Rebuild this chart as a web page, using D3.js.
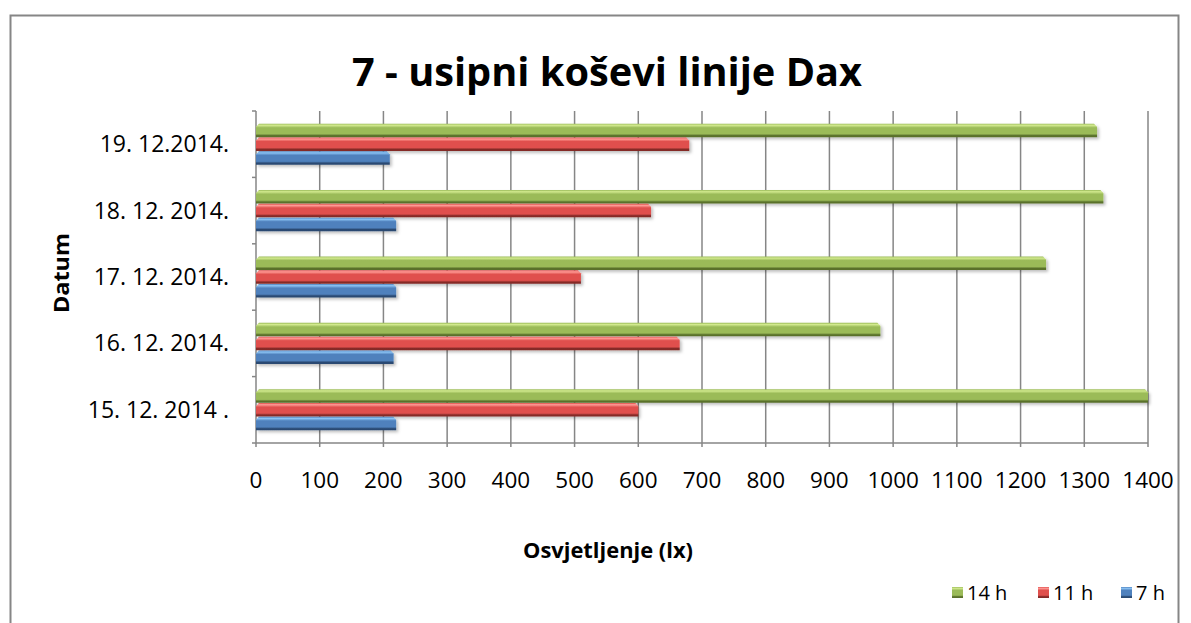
<!DOCTYPE html>
<html>
<head>
<meta charset="utf-8">
<script src="https://cdn.jsdelivr.net/npm/d3@7"></script>
<style>
  body { margin: 0; background: #fff; }
  text { font-family: "Open Sans", "DejaVu Sans", sans-serif; }
</style>
</head>
<body>
<div id="chart"></div>
<script>
"use strict";

// categories, top to bottom
const dates = ["19. 12.2014.", "18. 12. 2014.", "17. 12. 2014.", "16. 12. 2014.", "15. 12. 2014 ."];

const series = ["14 h", "11 h", "7 h"];

const vals14 = [1320, 1330, 1240, 980, 1400];
const vals11 = [680, 620, 510, 665, 600];
const vals7  = [210, 220, 220, 216, 220];

const xTicks = [0, 100, 200, 300, 400, 500, 600, 700, 800, 900, 1000, 1100, 1200, 1300, 1400];

const colors = {
    "14 h": ["#d2ea8e", "#9bbb59", "#5a712c"],
    "11 h": ["#ff9a96", "#e0504d", "#852a28"],
    "7 h":  ["#8cc4f5", "#4f81bd", "#2a4a72"]
};

const width = 1191;
const height = 623;
const margin = ({top: 111, right: 42, bottom: 180, left: 256});

const svg = d3.select("#chart").append("svg")
    .attr("width", width)
    .attr("height", height);

const defs = svg.append("defs");

series.forEach((s, i) => {
    const c = colors[s];
    const g = defs.append("linearGradient")
        .attr("id", "grad" + i)
        .attr("x1", 0).attr("y1", 0).attr("x2", 0).attr("y2", 1);
    g.append("stop").attr("offset", "0%").attr("stop-color", c[1]);
    g.append("stop").attr("offset", "12%").attr("stop-color", c[0]);
    g.append("stop").attr("offset", "30%").attr("stop-color", c[1]);
    g.append("stop").attr("offset", "75%").attr("stop-color", c[1]);
    g.append("stop").attr("offset", "88%").attr("stop-color", c[2]);
    g.append("stop").attr("offset", "100%").attr("stop-color", c[2]);
});

defs.append("filter")
    .attr("id", "shadow")
    .attr("x", "-5%").attr("y", "-50%").attr("width", "110%").attr("height", "200%")
  .append("feDropShadow")
    .attr("dx", 2).attr("dy", 2).attr("stdDeviation", 1.5)
    .attr("flood-color", "#000").attr("flood-opacity", 0.25);

// outer frame
svg.append("rect")
    .attr("x", 10.5).attr("y", 15.5)
    .attr("width", 1168).attr("height", 640)
    .attr("fill", "none")
    .attr("stroke", "#868686")
    .attr("stroke-width", 2);

const x = d3.scaleLinear()
    .domain([0, 1400])
    .range([margin.left, width - margin.right - 1]);

const y = d3.scaleBand()
    .domain(dates)
    .range([margin.top, 443]);

const yInner = d3.scaleBand()
    .domain(series)
    .range([0, y.bandwidth()])
    .paddingInner(0.02)
    .paddingOuter(0.92);

// gridlines
svg.append("g")
    .selectAll("line")
    .data(xTicks)
    .join("line")
        .attr("x1", d => x(d)).attr("x2", d => x(d))
        .attr("y1", margin.top).attr("y2", 447)
        .attr("stroke", "#868686")
        .attr("stroke-width", 1.5);

// bottom axis
svg.append("line")
    .attr("x1", x(0)).attr("x2", x(1400))
    .attr("y1", 443).attr("y2", 443)
    .attr("stroke", "#868686")
    .attr("stroke-width", 1.5);

// left axis ticks
svg.append("g")
    .selectAll("line")
    .data(d3.range(dates.length + 1))
    .join("line")
        .attr("x1", x(0) - 4).attr("x2", x(0))
        .attr("y1", d => margin.top + d * y.step())
        .attr("y2", d => margin.top + d * y.step())
        .attr("stroke", "#868686")
        .attr("stroke-width", 1.5);

svg.append("g")
    .selectAll("text")
    .data(xTicks)
    .join("text")
        .attr("x", d => x(d))
        .attr("y", 488)
        .attr("text-anchor", "middle")
        .style("font-size", "22.5px")
        .attr("fill", "#000")
        .text(d => d);

svg.append("g")
    .selectAll("text")
    .data(dates)
    .join("text")
        .attr("x", 229)
        .attr("y", d => y(d) + y.bandwidth() / 2 + 8)
        .attr("text-anchor", "end")
        .style("font-size", "23px")
        .attr("fill", "#000")
        .text(d => d);

// bars
const data = dates.map((d, i) => ({date: d, values: [vals14[i], vals11[i], vals7[i]]}));

const groups = svg.append("g")
    .selectAll("g")
    .data(data)
    .join("g")
        .attr("transform", d => `translate(0,${y(d.date)})`);

groups.selectAll("path")
    .data(d => d.values.map((v, i) => ({s: series[i], i: i, v: v})))
    .join("path")
        .attr("filter", "url(#shadow)")
        .attr("fill", d => `url(#grad${d.i})`)
        .attr("d", d => {
            const x0 = x(0), x1 = x(d.v);
            const y0 = yInner(d.s), h = yInner.bandwidth();
            const b = 3;
            return `M${x0},${y0 + b} L${x0 + b},${y0} L${x1 - b},${y0} L${x1},${y0 + b}` +
                   ` L${x1},${y0 + h} L${x0},${y0 + h} Z`;
        });

// titles
svg.append("text")
    .attr("x", 607)
    .attr("y", 86)
    .attr("text-anchor", "middle")
    .attr("textLength", 510)
    .attr("lengthAdjust", "spacingAndGlyphs")
    .style("font-size", "40px")
    .style("font-weight", "bold")
    .text("7 - usipni koševi linije Dax");

svg.append("text")
    .attr("x", 608)
    .attr("y", 558)
    .attr("text-anchor", "middle")
    .attr("textLength", 170)
    .attr("lengthAdjust", "spacingAndGlyphs")
    .style("font-size", "21px")
    .style("font-weight", "bold")
    .text("Osvjetljenje (lx)");

svg.append("text")
    .attr("transform", "translate(69,273) rotate(-90)")
    .attr("text-anchor", "middle")
    .attr("textLength", 80)
    .attr("lengthAdjust", "spacingAndGlyphs")
    .style("font-size", "21px")
    .style("font-weight", "bold")
    .text("Datum");

// legend
const legendX = [952, 1038, 1121];

const legend = svg.append("g")
    .selectAll("g")
    .data(series)
    .join("g")
        .attr("transform", (d, i) => `translate(${legendX[i]},587)`);

legend.append("rect")
    .attr("width", 11).attr("height", 11)
    .attr("fill", (d, i) => `url(#grad${i})`);

legend.append("text")
    .attr("x", 15)
    .attr("y", 13)
    .style("font-size", "20px")
    .text(d => d);
</script>
</body>
</html>
